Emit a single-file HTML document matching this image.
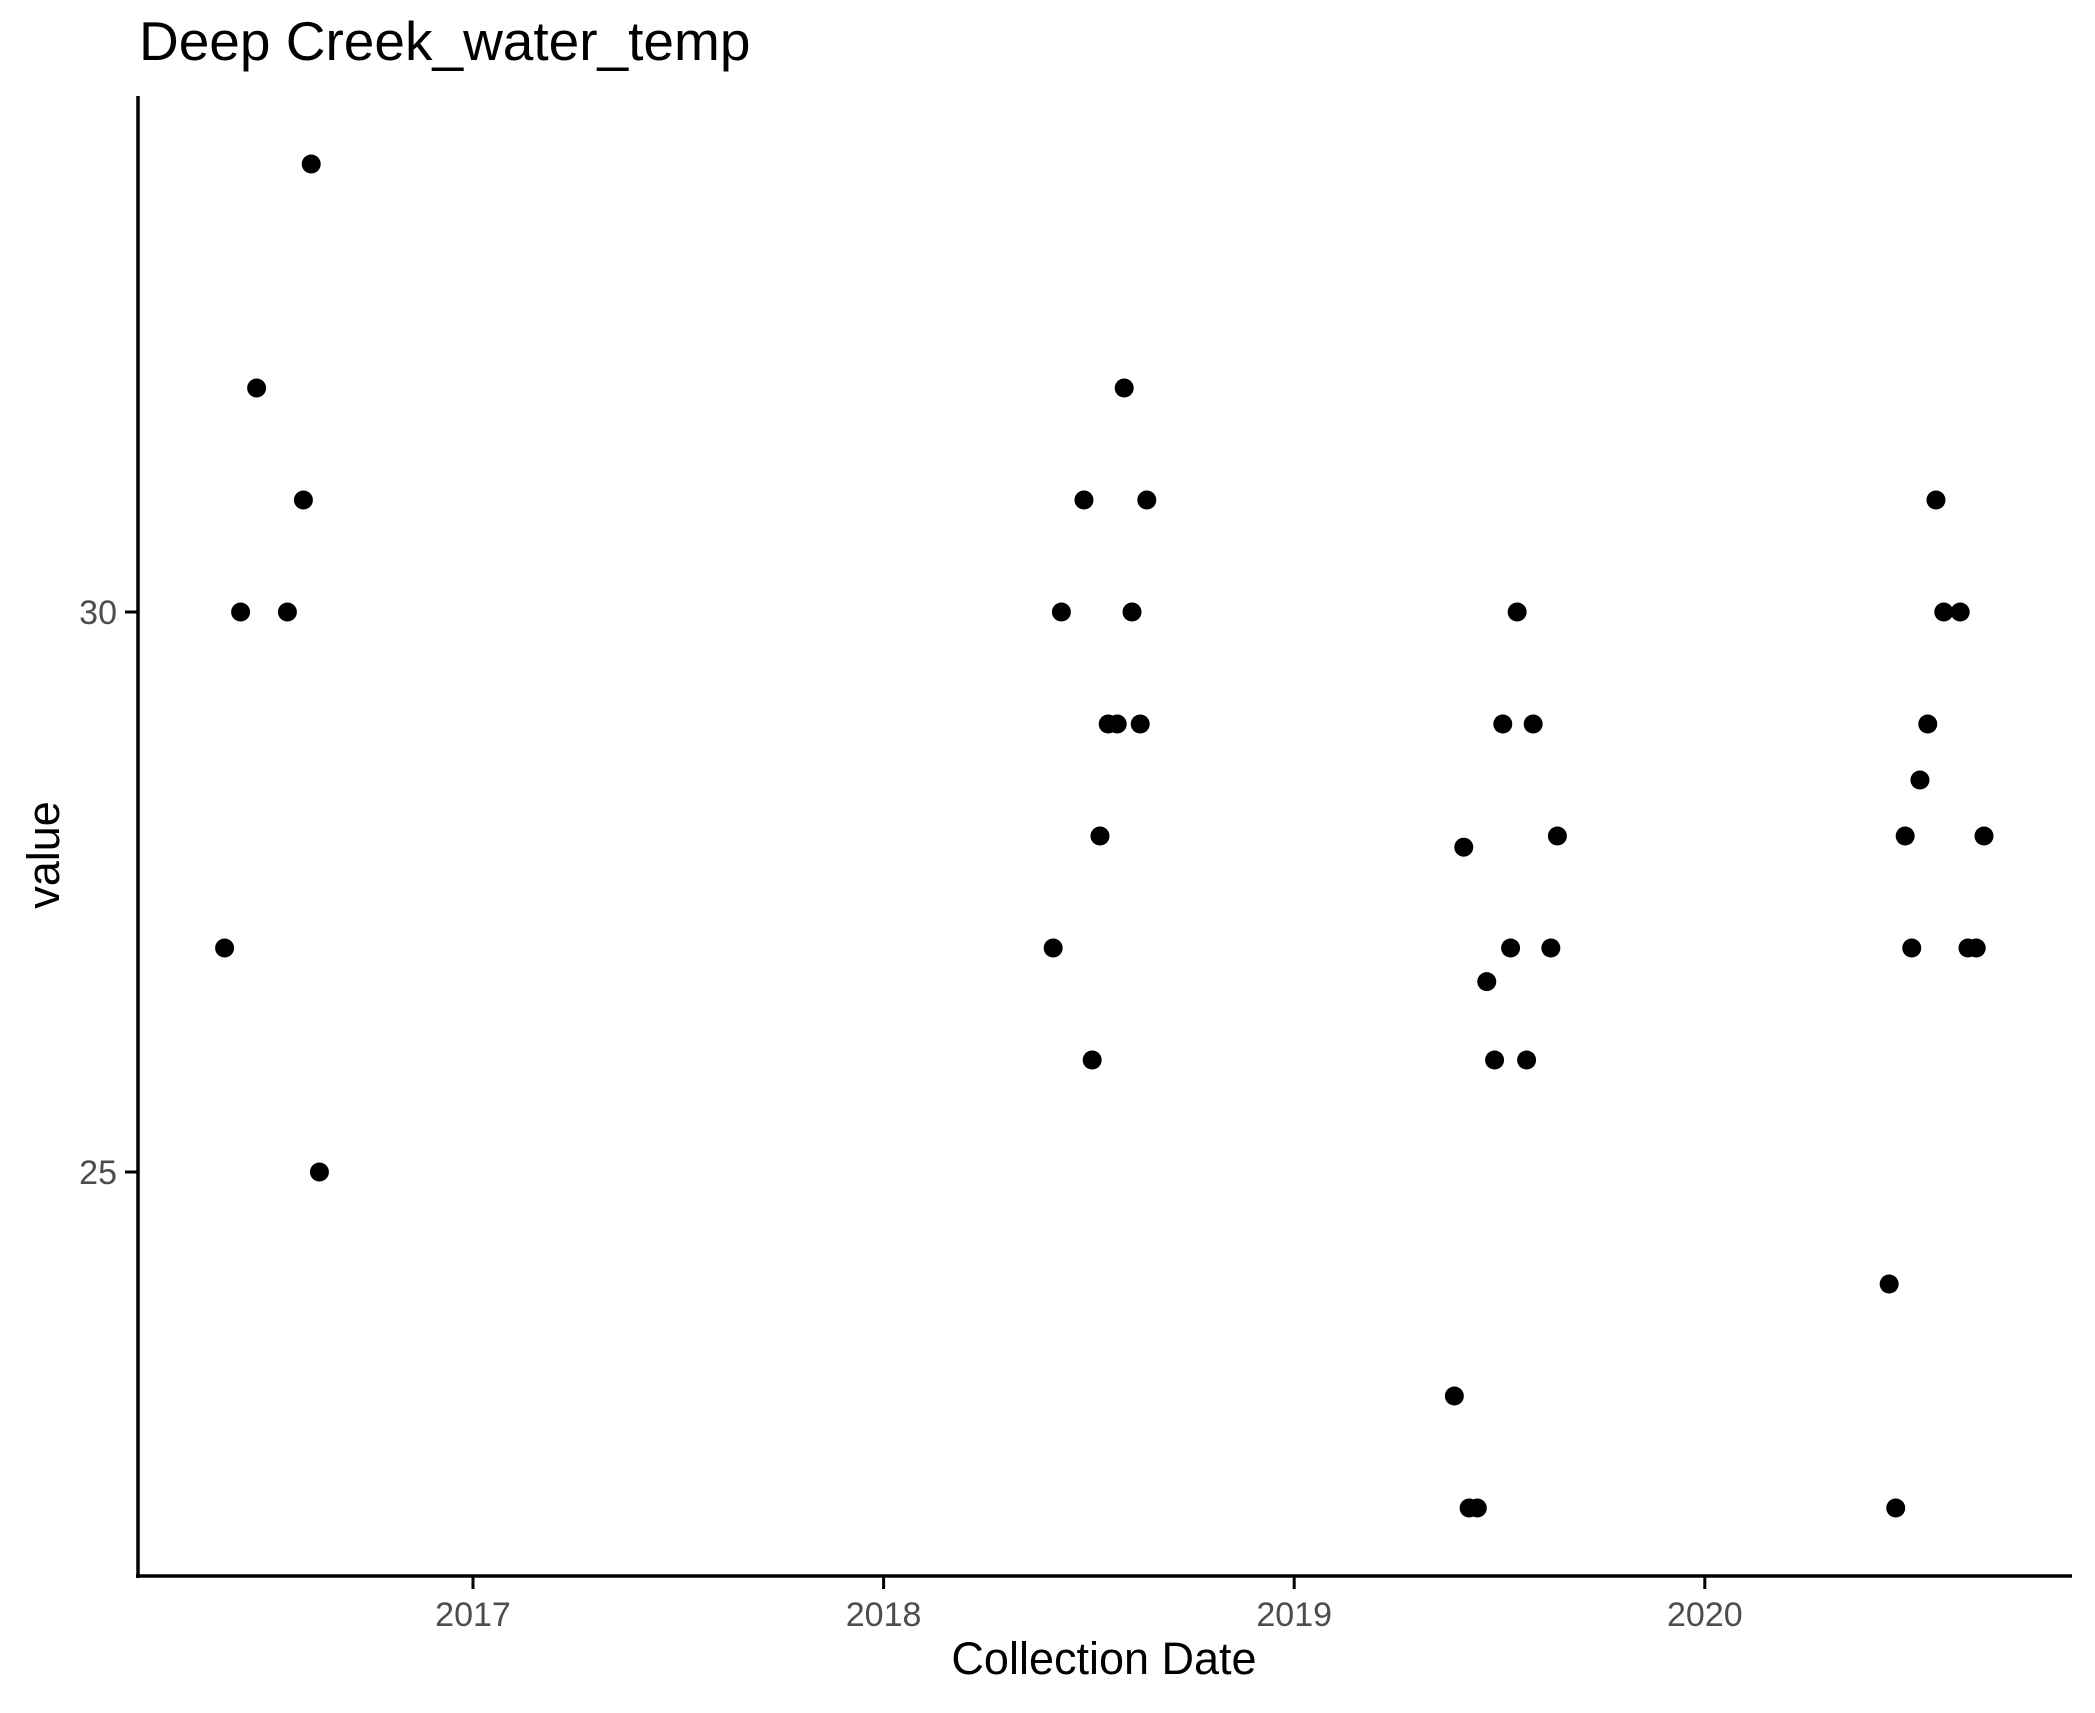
<!DOCTYPE html>
<html><head><meta charset="utf-8"><style>
html,body{margin:0;padding:0;background:#fff;}
svg text{font-family:"Liberation Sans",Arial,sans-serif;}
</style></head><body>
<svg id="chart" width="2095" height="1708" xmlns="http://www.w3.org/2000/svg">
<rect width="2095" height="1708" fill="#fff"/>
<text x="139" y="60" font-size="55" fill="#000">Deep Creek_water_temp</text>
<g id="marks"></g>
<g id="axes"></g>
<text x="1104" y="1674" font-size="45" text-anchor="middle" fill="#000">Collection Date</text>
<text transform="translate(59,855) rotate(-90)" font-size="45" text-anchor="middle" fill="#000">value</text>
</svg>
<script>
const dates = [2016.395,2016.434,2016.473,2016.548,2016.587,2016.606,2016.626,
2018.413,2018.433,2018.488,2018.508,2018.527,2018.547,2018.569,2018.586,2018.605,2018.625,2018.641,
2019.390,2019.413,2019.426,2019.446,2019.469,2019.488,2019.508,2019.527,2019.543,2019.566,2019.582,2019.625,2019.641,
2020.449,2020.465,2020.488,2020.504,2020.524,2020.543,2020.563,2020.582,2020.622,2020.641,2020.661,2020.680];
const values = [27,30,32,30,31,34,25,
27,30,31,26,28,29,29,32,30,29,31,
23,27.9,22,22,26.7,26,29,27,30,26,29,27,28,
24,22,28,27,28.5,29,31,30,30,27,27,28];
const xTicks = [2017,2018,2019,2020];
const yTicks = [25,30];

const NS = "http://www.w3.org/2000/svg";
function xScale(v){ return 473 + (v - 2017) * 410.6; }
function yScale(v){ return 612 - (v - 30) * 112; }

const marks = document.getElementById('marks');
dates.forEach((d, i) => {
  const c = document.createElementNS(NS, 'circle');
  c.setAttribute('cx', xScale(d));
  c.setAttribute('cy', yScale(values[i]));
  c.setAttribute('r', 9.5);
  c.setAttribute('fill', '#000');
  
  
  marks.appendChild(c);
});

const axes = document.getElementById('axes');
function line(x1,y1,x2,y2,w,name){
  const l = document.createElementNS(NS,'line');
  l.setAttribute('x1',x1);l.setAttribute('y1',y1);l.setAttribute('x2',x2);l.setAttribute('y2',y2);
  l.setAttribute('stroke','#000');l.setAttribute('stroke-width',w);
  
  
  axes.appendChild(l);
}
line(138,96,138,1578,3.5,'y-axis-line');
line(136,1576,2072,1576,3.5,'x-axis-line');
xTicks.forEach(t => {
  const x = xScale(t);
  line(x,1576,x,1589,3,'x-tick');
  const tx = document.createElementNS(NS,'text');
  tx.setAttribute('x',x);tx.setAttribute('y',1626);
  tx.setAttribute('font-size','34');tx.setAttribute('text-anchor','middle');tx.setAttribute('fill','#4d4d4d');
  
  
  tx.textContent = t;
  axes.appendChild(tx);
});
yTicks.forEach(t => {
  const y = yScale(t);
  line(125,y,138,y,3,'y-tick');
  const tx = document.createElementNS(NS,'text');
  tx.setAttribute('x',117);tx.setAttribute('y',y+12);
  tx.setAttribute('font-size','34');tx.setAttribute('text-anchor','end');tx.setAttribute('fill','#4d4d4d');
  
  
  tx.textContent = t;
  axes.appendChild(tx);
});
</script>
</body></html>
